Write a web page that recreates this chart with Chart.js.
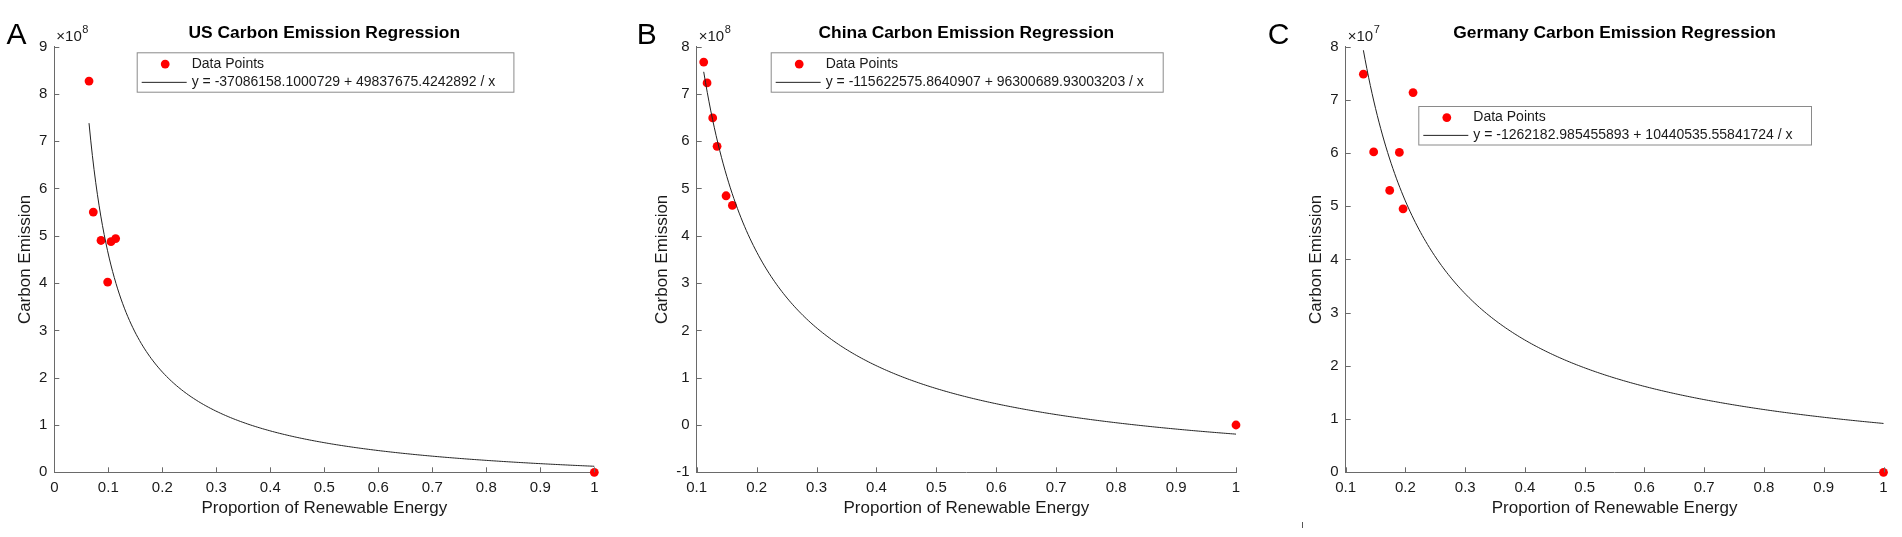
<!DOCTYPE html>
<html>
<head>
<meta charset="utf-8">
<script src="https://cdn.jsdelivr.net/npm/chart.js@4.4.1/dist/chart.umd.min.js"></script>
<style>
  html, body { margin: 0; padding: 0; background: #fff; }
  body { width: 1902px; height: 537px; position: relative; overflow: hidden; }
  canvas { position: absolute; top: 0; }
</style>
</head>
<body>
<canvas id="chartUS" width="620" height="537" style="left:0px"></canvas>
<canvas id="chartCN" width="640" height="537" style="left:620px"></canvas>
<canvas id="chartDE" width="642" height="537" style="left:1260px"></canvas>
<script>
// values
const usShare = [0.0643, 0.0722, 0.0865, 0.0988, 0.105, 0.1136, 1];
const usEmission = [8.27e8, 5.50e8, 4.90e8, 4.02e8, 4.875e8, 4.94e8, 0];
const usFit = [-37086158.1000729, 49837675.4242892];

const cnShare = [0.1117, 0.1173, 0.1267, 0.134, 0.149, 0.1595, 1];
const cnEmission = [7.67e8, 7.23e8, 6.49e8, 5.89e8, 4.845e8, 4.64e8, 0];
const cnFit = [-115622575.8640907, 96300689.93003203];

const deShare = [0.1296, 0.1468, 0.1736, 0.1898, 0.196, 0.2127, 1];
const deEmission = [7.48e7, 6.02e7, 5.295e7, 6.01e7, 4.95e7, 7.135e7, 0];
const deFit = [-1262182.985455893, 10440535.55841724];

const usTicksY = [0, 9];
const cnTicksY = [-1, 8];
const deTicksY = [0, 8];

const FONT = '"Liberation Sans", Arial, Helvetica, sans-serif';
const AXIS = '#6a6a6a';
const INK = '#1a1a1a';

Chart.defaults.font.family = FONT;
Chart.defaults.color = INK;

function fitCurve(share, coef) {
  const lo = Math.min(...share), hi = Math.max(...share);
  const pts = [];
  for (let i = 0; i <= 300; i++) {
    const xv = lo + (hi - lo) * i / 300;
    pts.push({ x: xv, y: coef[0] + coef[1] / xv });
  }
  return pts;
}

// title, panel letter, x10^n, inward ticks and the boxed legend
const decor = {
  id: 'decor',
  afterDraw(chart, args, o) {
    const { ctx, chartArea: a, scales: { x, y } } = chart;
    ctx.save();

    ctx.strokeStyle = AXIS;
    ctx.lineWidth = 1;
    ctx.beginPath();
    x.ticks.forEach(t => {
      const px = Math.round(x.getPixelForValue(t.value)) + 0.5;
      ctx.moveTo(px, a.bottom);
      ctx.lineTo(px, a.bottom - 5);
    });
    y.ticks.forEach(t => {
      const py = Math.round(y.getPixelForValue(t.value)) + 0.5;
      ctx.moveTo(a.left, py);
      ctx.lineTo(a.left + 5, py);
    });
    ctx.stroke();

    ctx.fillStyle = '#000';
    ctx.font = 'bold 17.4px ' + FONT;
    ctx.textAlign = 'center';
    ctx.textBaseline = 'middle';
    ctx.fillText(o.title, (a.left + a.right) / 2, 33);

    ctx.textAlign = 'left';
    ctx.textBaseline = 'alphabetic';
    ctx.font = '30px ' + FONT;
    ctx.fillText(o.letter, o.letterX, 43.5);

    ctx.fillStyle = INK;
    ctx.font = '15px ' + FONT;
    ctx.fillText('\u00d710', a.left + 2, 40.5);
    const w = ctx.measureText('\u00d710').width;
    ctx.font = '11px ' + FONT;
    ctx.fillText(o.exponent, a.left + 2.5 + w, 33);

    const b = o.legend;
    ctx.fillStyle = '#fff';
    ctx.fillRect(b.x, b.y, b.w, b.h);
    ctx.strokeStyle = '#8a8a8a';
    ctx.strokeRect(b.x + 0.5, b.y + 0.5, b.w, b.h);
    const r1 = b.y + b.h * 0.3, r2 = b.y + b.h * 0.75;
    const pts = chart.data.datasets[1];
    const line = chart.data.datasets[0];
    ctx.fillStyle = pts.backgroundColor;
    ctx.beginPath();
    ctx.arc(b.x + 28.5, r1, 4.4, 0, Math.PI * 2);
    ctx.fill();
    ctx.strokeStyle = line.borderColor;
    ctx.beginPath();
    ctx.moveTo(b.x + 5, r2 + 0.5);
    ctx.lineTo(b.x + 50, r2 + 0.5);
    ctx.stroke();
    ctx.fillStyle = INK;
    ctx.font = '14px ' + FONT;
    ctx.textBaseline = 'middle';
    ctx.fillText(pts.label, b.x + 55, r1);
    ctx.fillText(line.label, b.x + 55, r2);

    if (o.stray) {
      ctx.strokeStyle = '#555';
      ctx.beginPath();
      ctx.moveTo(o.stray.x + 0.5, o.stray.y0);
      ctx.lineTo(o.stray.x + 0.5, o.stray.y1);
      ctx.stroke();
    }

    ctx.restore();
  }
};

function makeChart(id, p) {
  const points = p.share.map((v, i) => ({ x: v, y: p.emission[i] }));
  return new Chart(document.getElementById(id), {
    type: 'scatter',
    data: {
      datasets: [
        {
          label: p.fitLabel,
          data: fitCurve(p.share, p.fit),
          showLine: true,
          borderColor: '#222',
          borderWidth: 1,
          pointRadius: 0,
          tension: 0,
          clip: false,
          order: 0
        },
        {
          label: 'Data Points',
          data: points,
          backgroundColor: '#ff0000',
          borderColor: '#ff0000',
          pointRadius: 4.4,
          pointBorderWidth: 0,
          clip: false,
          order: 1
        }
      ]
    },
    options: {
      responsive: false,
      animation: false,
      events: [],
      layout: { padding: { top: 46.5, right: p.padRight, bottom: 0, left: 0 } },
      plugins: {
        legend: { display: false },
        tooltip: { enabled: false },
        decor: {
          title: p.title,
          letter: p.letter,
          letterX: p.letterX,
          exponent: p.exponent,
          legend: p.legendBox,
          stray: p.stray
        }
      },
      scales: {
        x: {
          type: 'linear',
          min: p.xMin,
          max: 1,
          afterFit: s => { s.height = 64.7; },
          grid: { display: false, drawTicks: false, tickLength: 0 },
          border: { display: true, color: AXIS, width: 1 },
          ticks: {
            stepSize: 0.1,
            autoSkip: false,
            maxRotation: 0,
            padding: 7,
            color: INK,
            font: { size: 15 },
            callback: v => String(+v.toFixed(1))
          },
          title: {
            display: true,
            text: 'Proportion of Renewable Energy',
            color: INK,
            font: { size: 17 },
            padding: { top: 0, bottom: 18.5 }
          }
        },
        y: {
          type: 'linear',
          min: p.yTicks[0] * p.scale,
          max: p.yTicks[1] * p.scale,
          afterFit: s => { s.width = p.yWidth; },
          grid: { display: false, drawTicks: false, tickLength: 0 },
          border: { display: true, color: AXIS, width: 1 },
          ticks: {
            stepSize: p.scale,
            autoSkip: false,
            padding: 7,
            color: INK,
            font: { size: 15 },
            callback: v => String(Math.round(v / p.scale))
          },
          title: {
            display: true,
            text: 'Carbon Emission',
            color: INK,
            font: { size: 17 },
            padding: { top: p.yTitlePad, bottom: 0 }
          }
        }
      }
    },
    plugins: [decor]
  });
}

makeChart('chartUS', {
  share: usShare, emission: usEmission, fit: usFit,
  fitLabel: 'y = -37086158.1000729 + 49837675.4242892 / x',
  title: 'US Carbon Emission Regression', letter: 'A', letterX: 6.5,
  exponent: '8', scale: 1e8, yTicks: usTicksY, xMin: 0,
  yWidth: 54.3, padRight: 25.7, yTitlePad: 15.1,
  legendBox: { x: 136.7, y: 52.3, w: 376.7, h: 39.4 }
});

makeChart('chartCN', {
  share: cnShare, emission: cnEmission, fit: cnFit,
  fitLabel: 'y = -115622575.8640907 + 96300689.93003203 / x',
  title: 'China Carbon Emission Regression', letter: 'B', letterX: 16.7,
  exponent: '8', scale: 1e8, yTicks: cnTicksY, xMin: 0.1,
  yWidth: 76.7, padRight: 24, yTitlePad: 31.8,
  legendBox: { x: 150.7, y: 52.3, w: 392, h: 39.4 }
});

makeChart('chartDE', {
  share: deShare, emission: deEmission, fit: deFit,
  fitLabel: 'y = -1262182.985455893 + 10440535.55841724 / x',
  title: 'Germany Carbon Emission Regression', letter: 'C', letterX: 7.7,
  exponent: '7', scale: 1e7, yTicks: deTicksY, xMin: 0.1,
  yWidth: 85.7, padRight: 18.5, yTitlePad: 46.5,
  legendBox: { x: 158.3, y: 106, w: 392.7, h: 38.5 },
  stray: { x: 42, y0: 522, y1: 528 }
});
</script>
</body>
</html>
